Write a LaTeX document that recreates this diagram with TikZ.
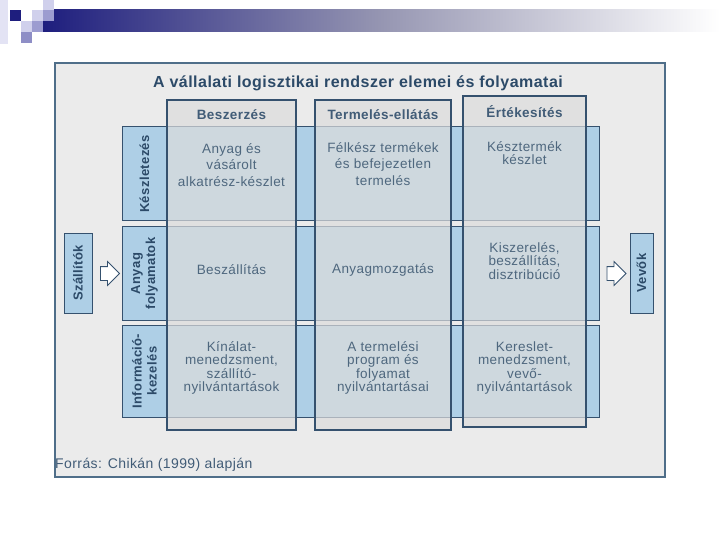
\documentclass[tikz,border=0pt]{standalone}
\usepackage{fontspec}
\setmainfont{Liberation Sans}
\newfontfamily\widefont[LetterSpace=3]{Liberation Sans}
\usetikzlibrary{shapes.arrows}

\definecolor{framegray}{HTML}{EBEBEB}
\definecolor{frameline}{HTML}{4F6E89}
\definecolor{titleblue}{HTML}{2C4A68}
\definecolor{bandblue}{HTML}{AECFE6}
\definecolor{bandline}{HTML}{35516E}
\definecolor{colgray}{HTML}{DCDCDC}
\definecolor{celltext}{HTML}{4E677E}
\definecolor{navy}{HTML}{1E1E7E}
\definecolor{lavlight}{HTML}{D0D0EC}
\definecolor{lavmid}{HTML}{9C9CD0}
\definecolor{lavdark}{HTML}{8E8EC6}

\begin{document}
\begin{tikzpicture}[x=1pt, y=-1pt,
    band/.style={draw=bandline, fill=bandblue, line width=1pt, minimum width=477pt, inner sep=0pt},
    column/.style={draw=bandline, line width=1.2pt, fill=colgray, fill opacity=0.7, draw opacity=1, inner sep=0pt},
    colhead/.style={font=\widefont\fontsize{13.5}{15}\selectfont\bfseries, text=titleblue!90!white},
    rowlabel/.style={rotate=90, align=center, font=\widefont\fontsize{13}{15}\selectfont\bfseries, text=titleblue},
    cell/.style={align=center, text=celltext, font=\widefont\fontsize{13.5}{13.5}\selectfont},
    tallcell/.style={cell, font=\widefont\fontsize{13.5}{16.5}\selectfont},
    party/.style={draw=bandline, fill=bandblue, line width=1pt, inner sep=0pt, rotate=90, font=\widefont\fontsize{13}{15}\selectfont\bfseries, text=titleblue},
    flow/.style={single arrow, draw=bandline, fill=white, line width=0.8pt, minimum height=19pt, minimum width=23pt, single arrow head extend=5pt, inner sep=0pt, text height=6.5pt, text depth=6.5pt, text width=0pt}
]
    \useasboundingbox (0,0) rectangle (720,540);

    % slide decoration
    \fill[lavlight!60] (0,0) rectangle (8,44);
    \shade[left color=navy, right color=white, middle color={rgb,255:red,150;green,150;blue,178}] (43,10) rectangle (720,32);
    \fill[navy] (10,10) rectangle (21,21);
    \fill[lavlight] (32,10) rectangle (43,21);
    \fill[lavlight] (43,0) rectangle (54,10);
    \fill[lavmid] (43,10) rectangle (54,21);
    \fill[lavlight] (21,21) rectangle (32,32);
    \fill[lavmid] (32,21) rectangle (43,32);
    \fill[lavdark] (21,32) rectangle (32,43);

    % frame
    \node[draw=frameline, fill=framegray, line width=2pt, minimum width=610pt, minimum height=414pt, inner sep=0pt] (frame) at (360,270) {};
    \node[font=\widefont\fontsize{16}{18}\selectfont\bfseries, text=titleblue] (title) at (358,83) {A vállalati logisztikai rendszer elemei és folyamatai};

    % rows
    \node[band, minimum height=94pt] (keszlet) at (360.5,174) {};
    \node[band, minimum height=93pt] (anyag) at (360.5,273.5) {};
    \node[band, minimum height=92pt] (info) at (360.5,371) {};

    % columns
    \node[column, minimum width=129pt, minimum height=330pt] (beszerzes) at (231.5,265) {};
    \node[column, minimum width=136pt, minimum height=330pt] (termeles) at (383,265) {};
    \node[column, line width=2pt, minimum width=123pt, minimum height=331pt] (ertekesites) at (524.5,261.5) {};

    \node[colhead] (h1) at (231.5,115) {Beszerzés};
    \node[colhead] (h2) at (383,115) {Termelés-ellátás};
    \node[colhead] (h3) at (524.5,112) {Értékesítés};

    \node[rowlabel] (r1) at (144.5,174) {Készletezés};
    \node[rowlabel] (r2) at (144.5,273.5) {Anyag\\folyamatok};
    \node[rowlabel] (r3) at (144.5,371) {Információ-\\kezelés};

    % cells
    \node[tallcell] (c11) at (231.5,165) {Anyag és\\vásárolt\\alkatrész-készlet};
    \node[tallcell] (c12) at (383,164) {Félkész termékek\\és befejezetlen\\termelés};
    \node[cell] (c13) at (524.5,153) {Késztermék\\készlet};
    \node[cell] (c21) at (231.5,270) {Beszállítás};
    \node[cell] (c22) at (383,270) {Anyagmozgatás};
    \node[cell] (c23) at (524.5,261) {Kiszerelés,\\beszállítás,\\disztribúció};
    \node[cell] (c31) at (231.5,368) {Kínálat-\\menedzsment,\\szállító-\\nyilvántartások};
    \node[cell] (c32) at (383,368) {A termelési\\program és\\folyamat\\nyilvántartásai};
    \node[cell] (c33) at (524.5,368) {Kereslet-\\menedzsment,\\vevő-\\nyilvántartások};

    % suppliers and customers
    \node[party, minimum width=80pt, minimum height=28pt] (szallitok) at (78,273) {Szállítók};
    \node[party, minimum width=80pt, minimum height=23pt] (vevok) at (641.5,273) {Vevők};
    \node[flow] (inflow) at (106.5,273.5) {};
    \node[flow] (outflow) at (613,273.5) {};

    \node[anchor=west, inner sep=0pt, font=\widefont\fontsize{14}{15}\selectfont, text=titleblue!90!white] (forras) at (55,465) {Forrás: Chikán (1999) alapján};
\end{tikzpicture}
\end{document}
